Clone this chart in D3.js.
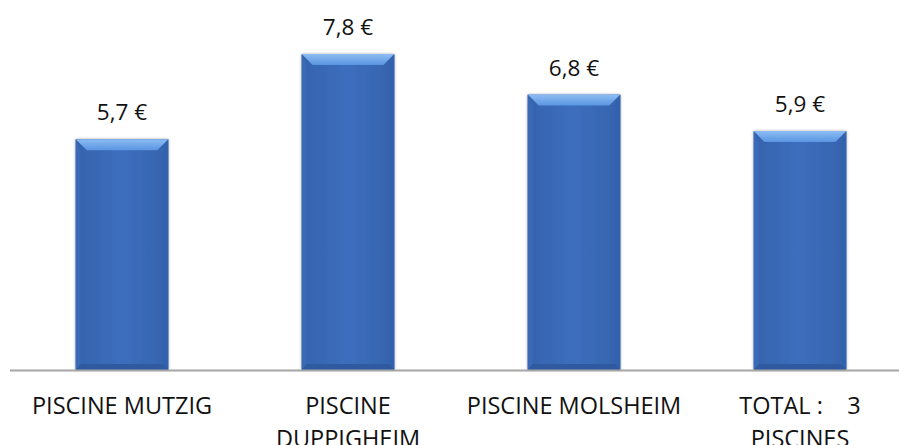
<!DOCTYPE html>
<html><head><meta charset="utf-8">
<script src="https://cdn.jsdelivr.net/npm/d3@7"></script>
<style>body{margin:0;background:#fff}svg{display:block}</style>
</head><body>
<script>
const categories = [["PISCINE MUTZIG"], ["PISCINE", "DUPPIGHEIM"], ["PISCINE MOLSHEIM"], ["TOTAL :    3", "PISCINES"]];
const values = [5.7, 7.8, 6.8, 5.9];
const valueLabels = ["5,7 €", "7,8 €", "6,8 €", "5,9 €"];

const W = 899, H = 445;
const svg = d3.select("body").append("svg").attr("width", W).attr("height", H);
const defs = svg.append("defs");

const x = d3.scaleBand().domain(d3.range(values.length)).range([9, 913]).paddingInner(0.59).paddingOuter(0.295);
const y = d3.scaleLinear().domain([0, 9]).range([370, 5.5]);

const gBody = defs.append("linearGradient").attr("id", "body").attr("x1", 0).attr("x2", 1).attr("y1", 0).attr("y2", 0);
gBody.append("stop").attr("offset", "0").attr("stop-color", "#3563AC");
gBody.append("stop").attr("offset", "0.5").attr("stop-color", "#3D6EBE");
gBody.append("stop").attr("offset", "1").attr("stop-color", "#3563AC");
const gTop = defs.append("linearGradient").attr("id", "top").attr("x1", 0).attr("x2", 0).attr("y1", 0).attr("y2", 1);
gTop.append("stop").attr("offset", "0").attr("stop-color", "#8CBCF2");
gTop.append("stop").attr("offset", "1").attr("stop-color", "#5B95E2");
const f = defs.append("filter").attr("id", "sh").attr("x", "-10%").attr("y", "-5%").attr("width", "120%").attr("height", "110%");
f.append("feDropShadow").attr("dx", 0).attr("dy", 0).attr("stdDeviation", 1.6).attr("flood-color", "#000").attr("flood-opacity", 0.35);

const bars = svg.selectAll("g.bar").data(values).join("g").attr("class", "bar");
bars.each(function(v, i) {
  const g = d3.select(this);
  const x0 = x(i), w = x.bandwidth(), y0 = y(v), h = y(0) - y(v);
  const b = 11, s = 5, bb = 6;
  g.append("rect").attr("x", x0).attr("y", y0).attr("width", w).attr("height", h).attr("fill", "url(#body)").attr("filter", "url(#sh)");
  g.append("path").attr("d", `M${x0},${y0}L${x0 + s},${y0 + b}L${x0 + s},${y0 + h - bb}L${x0},${y0 + h}Z`).attr("fill", "#3A6AB6");
  g.append("path").attr("d", `M${x0 + w},${y0}L${x0 + w - s},${y0 + b}L${x0 + w - s},${y0 + h - bb}L${x0 + w},${y0 + h}Z`).attr("fill", "#3262AE");
  g.append("path").attr("d", `M${x0},${y0 + h}L${x0 + s},${y0 + h - bb}L${x0 + w - s},${y0 + h - bb}L${x0 + w},${y0 + h}Z`).attr("fill", "#2F5A9F");
  g.append("path").attr("d", `M${x0},${y0}L${x0 + w},${y0}L${x0 + w - b},${y0 + b}L${x0 + b},${y0 + b}Z`).attr("fill", "url(#top)");
});

svg.append("line").attr("x1", 10).attr("x2", W).attr("y1", y(0) + 0.5).attr("y2", y(0) + 0.5).attr("stroke", "#A6A6A6").attr("stroke-width", 2);

const font = "'Open Sans', sans-serif";
svg.selectAll("text.val").data(values).join("text").attr("class", "val")
  .attr("x", (d, i) => x(i) + x.bandwidth() / 2).attr("y", d => y(d) - 19)
  .attr("text-anchor", "middle").attr("font-family", font).attr("font-size", 22.5).attr("fill", "#111")
  .text((d, i) => valueLabels[i]);

const cl = svg.selectAll("text.cat").data(categories).join("text").attr("class", "cat")
  .attr("text-anchor", "middle").attr("font-family", font).attr("font-size", 23.5).attr("fill", "#111")
  .style("white-space", "pre");
cl.each(function(lines, i) {
  const t = d3.select(this);
  lines.forEach((ln, k) => {
    t.append("tspan").attr("x", x(i) + x.bandwidth() / 2).attr("y", 414 + k * 33).text(ln);
  });
});
</script>
</body></html>
